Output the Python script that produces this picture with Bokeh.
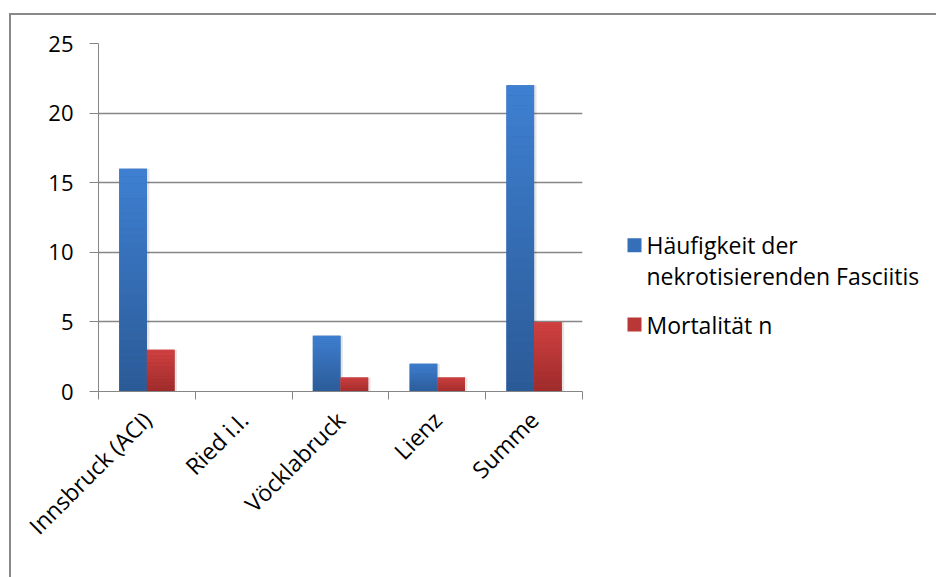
from math import pi
from bokeh.plotting import figure
from bokeh.layouts import row
from bokeh.models import Range1d, FixedTicker, ColumnDataSource
from bokeh.core.properties import value
from bokeh.embed import file_html
from bokeh.resources import INLINE

# ---- data ----
categories = ["Innsbruck (ACI)", "Ried i.I.", "Vöcklabruck", "Lienz", "Summe"]
haeufigkeit = [16, 0, 4, 2, 22]
mortalitaet = [3, 0, 1, 1, 5]
series_labels = ["Häufigkeit der\nnekrotisierenden Fasciitis", "Mortalität n"]
y_ticks = [0, 5, 10, 15, 20, 25]

FONT = "Open Sans"
FSIZE = "22px"
XSIZE = "23px"
LSIZE = "23px"
GRID = "#868686"
BLUE = ("#2b5a96", "#3e80d2")   # bottom, top of gradient
RED = ("#9c2a2a", "#d24242")

W_A, W_B, H = 572, 353, 562

p = figure(width=W_A, height=H, output_backend="svg", toolbar_location=None,
           x_range=Range1d(0, len(categories)), y_range=Range1d(0, 25),
           min_border_left=87, min_border_top=28, min_border_right=1, min_border_bottom=186)
p.outline_line_color = None
p.background_fill_color = "white"
p.border_fill_color = "white"


def hex2rgb(h):
    h = h.lstrip("#")
    return tuple(int(h[i:i + 2], 16) for i in (0, 2, 4))


def mix(c0, c1, t):
    a, b = hex2rgb(c0), hex2rgb(c1)
    return "#%02x%02x%02x" % tuple(int(round(a[i] + (b[i] - a[i]) * t)) for i in range(3))


N = 30
bar_w = 0.286
series = [(haeufigkeit, -bar_w / 2, BLUE), (mortalitaet, bar_w / 2, RED)]
for values, off, (c_bot, c_top) in series:
    xc = [i + 0.5 + off for i in range(len(values))]
    nz = [i for i, v in enumerate(values) if v > 0]
    # soft shadow and solid base
    p.vbar(x=[xc[i] + 0.025 for i in nz], width=bar_w, bottom=-0.12, top=[values[i] for i in nz],
           fill_color="#000000", fill_alpha=0.10, line_color=None)
    p.vbar(x=[xc[i] for i in nz], width=bar_w, bottom=0, top=[values[i] for i in nz],
           fill_color=mix(c_bot, c_top, 0.5), line_color=None)
    xs, bots, tops, cols = [], [], [], []
    for i in nz:
        v = values[i]
        for k in range(N):
            xs.append(xc[i])
            bots.append(v * k / N)
            tops.append(v * (k + 1) / N)
            cols.append(mix(c_bot, c_top, (k + 0.5) / N))
    src = ColumnDataSource(dict(x=xs, bottom=bots, top=tops, color=cols))
    p.vbar(x="x", width=bar_w, bottom="bottom", top="top", source=src,
           fill_color="color", line_color=None)

# axes
p.yaxis.ticker = FixedTicker(ticks=y_ticks)
p.yaxis.axis_line_color = GRID
p.yaxis.major_tick_line_color = GRID
p.yaxis.major_tick_out = 9
p.yaxis.major_tick_in = 0
p.yaxis.minor_tick_line_color = None
p.yaxis.major_label_text_font = FONT
p.yaxis.major_label_text_font_size = FSIZE
p.yaxis.major_label_text_color = "black"
p.yaxis.major_label_standoff = 16

centers = [i + 0.5 for i in range(len(categories))]
bounds = [float(i) for i in range(len(categories) + 1)]
p.xaxis.ticker = FixedTicker(ticks=centers, minor_ticks=bounds)
p.xaxis.major_label_overrides = {c: lab for c, lab in zip(centers, categories)}
p.xaxis.major_label_orientation = pi / 4
p.xaxis.axis_line_color = GRID
p.xaxis.major_tick_line_color = None
p.xaxis.major_tick_out = 0
p.xaxis.minor_tick_line_color = GRID
p.xaxis.minor_tick_out = 8
p.xaxis.minor_tick_in = 0
p.xaxis.major_label_text_font = FONT
p.xaxis.major_label_text_font_size = XSIZE
p.xaxis.major_label_text_color = "black"
p.xaxis.major_label_standoff = 16

p.xgrid.grid_line_color = None
p.ygrid.grid_line_color = GRID
p.ygrid.grid_line_width = 1.3

# ---- legend panel ----
# Bokeh aligns this panel's frame with the chart's frame, so its y range is
# expressed in page pixels (frame top 43, frame bottom 391, y downwards).
lg = figure(width=W_B, height=H, output_backend="svg", toolbar_location=None,
            x_range=Range1d(0, W_B), y_range=Range1d(391, 43),
            x_axis_location=None, y_axis_location=None,
            min_border_left=0, min_border_right=0, min_border_top=28, min_border_bottom=186)
lg.grid.grid_line_color = None
lg.outline_line_color = None
lg.background_fill_color = "white"
lg.border_fill_color = "white"

SQ = 14
sq_x = 51
text_x = 63
entry_bottoms = [251.7, 331.0]
text_shift = -7
line_step = 30.6
colors = [BLUE, RED]
sx, sy, sc = [], [], []
tx, ty, tt = [], [], []
for lab, base, (c_bot, c_top) in zip(series_labels, entry_bottoms, colors):
    sx.append(sq_x)
    sy.append(base - SQ / 2)
    sc.append(mix(c_bot, c_top, 0.55))
    for j, line in enumerate(lab.split("\n")):
        tx.append(text_x)
        ty.append(base + text_shift + j * line_step)
        tt.append(line)
lg.rect(x=sx, y=sy, width=SQ, height=SQ, fill_color=sc, line_color=None)
lg.text(x=tx, y=ty, text=tt, text_font=value(FONT), text_font_size=LSIZE,
        text_color="black", text_baseline="alphabetic", text_align="left")

layout = row(p, lg, styles={"margin-left": "9px", "margin-top": "13px",
                            "border-top": "2px solid #898989", "border-left": "2px solid #898989"})

open("out.html", "w").write(file_html(layout, INLINE))
